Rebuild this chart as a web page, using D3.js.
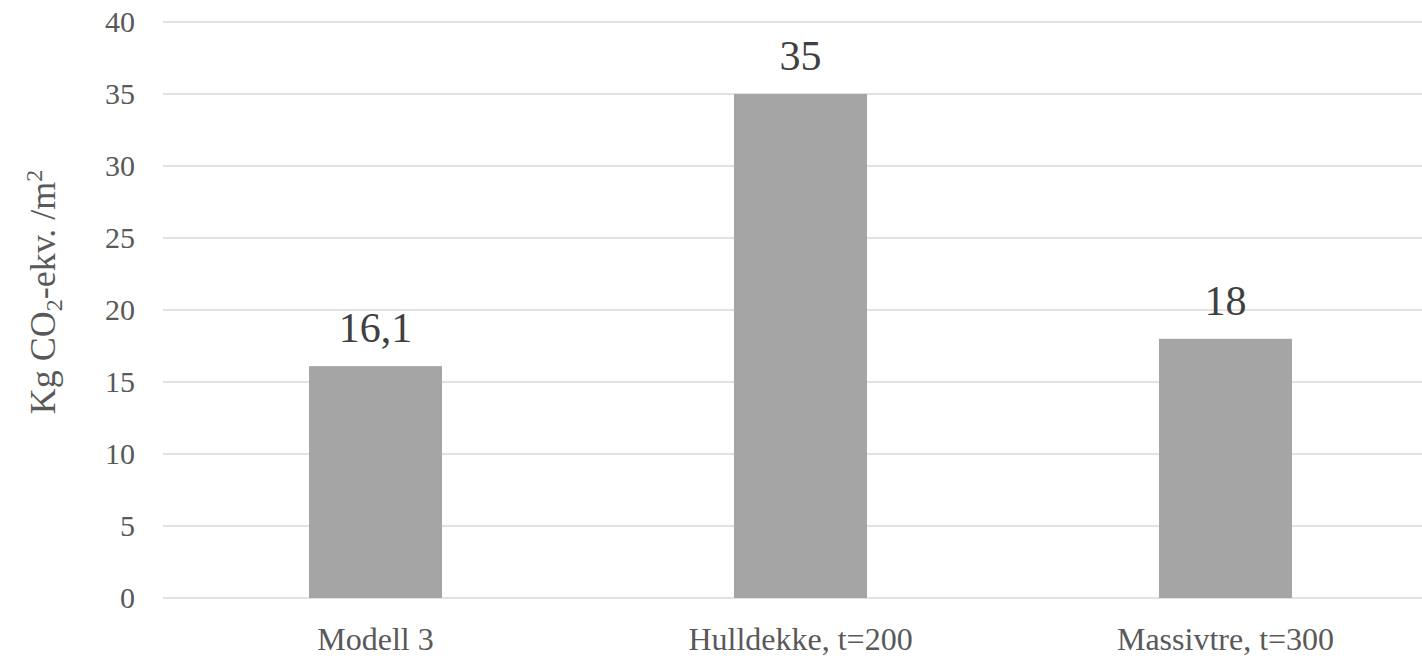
<!DOCTYPE html>
<html>
<head>
<meta charset="utf-8">
<script src="https://cdn.jsdelivr.net/npm/d3@7"></script>
<style>
  html, body { margin: 0; padding: 0; background: #fff; }
  svg { display: block; }
</style>
</head>
<body>
<svg id="chart" width="1422" height="658"></svg>
<script>
const categories = ["Modell 3", "Hulldekke, t=200", "Massivtre, t=300"];
const values = [16.1, 35, 18];
const valueLabels = ["16,1", "35", "18"];
const yTicks = [0, 5, 10, 15, 20, 25, 30, 35, 40];

const FONT = '"Liberation Serif"';

const svg = d3.select("#chart");
const plot = { left: 163, right: 1438, top: 22, bottom: 598 };

const x = d3.scaleBand()
  .domain(categories)
  .range([plot.left, plot.right])
  .paddingInner(0.687)
  .paddingOuter(0.3435);

const y = d3.scaleLinear()
  .domain([0, 40])
  .range([plot.bottom, plot.top]);

// gridlines
svg.append("g")
  .selectAll("line")
  .data(yTicks)
  .join("line")
  .attr("x1", plot.left)
  .attr("x2", plot.right)
  .attr("y1", d => y(d))
  .attr("y2", d => y(d))
  .attr("stroke", "#d9d9d9")
  .attr("stroke-width", 1.5);

// y axis labels
const yAxis = d3.axisLeft(y).tickValues(yTicks).tickSize(0).tickPadding(0);
const gy = svg.append("g")
  .attr("transform", `translate(135,0)`)
  .call(yAxis)
  .attr("font-family", null)
  .attr("font-size", null);
gy.select(".domain").remove();
gy.selectAll("text")
  .attr("fill", "#595959")
  .style("font-family", FONT)
  .attr("font-size", 30);

// bars
svg.append("g")
  .selectAll("rect")
  .data(values)
  .join("rect")
  .attr("x", (d, i) => x(categories[i]))
  .attr("width", x.bandwidth())
  .attr("y", d => y(d))
  .attr("height", d => y(0) - y(d))
  .attr("fill", "#a5a5a5");

// value labels
svg.append("g")
  .selectAll("text")
  .data(values)
  .join("text")
  .attr("x", (d, i) => x(categories[i]) + x.bandwidth() / 2)
  .attr("y", d => y(d) - 24)
  .attr("text-anchor", "middle")
  .attr("fill", "#404040")
  .style("font-family", FONT)
  .attr("font-size", 42)
  .text((d, i) => valueLabels[i]);

// x axis labels
const xAxis = d3.axisBottom(x).tickSize(0).tickPadding(0);
const gx = svg.append("g")
  .attr("transform", `translate(0,${plot.bottom})`)
  .call(xAxis)
  .attr("font-family", null)
  .attr("font-size", null);
gx.select(".domain").remove();
gx.selectAll("text")
  .attr("dy", null)
  .attr("y", 52)
  .attr("fill", "#595959")
  .style("font-family", FONT)
  .attr("font-size", 32);

// y axis title
const title = svg.append("text")
  .attr("transform", `translate(55,${(plot.top + plot.bottom) / 2 - 18}) rotate(-90)`)
  .attr("text-anchor", "middle")
  .attr("fill", "#595959")
  .style("font-family", FONT)
  .attr("font-size", 36);
title.append("tspan").text("Kg CO");
title.append("tspan").attr("font-size", 24).attr("dy", 7).text("2");
title.append("tspan").attr("dy", -7).text("-ekv. /m");
title.append("tspan").attr("font-size", 24).attr("dy", -13).text("2");
</script>
</body>
</html>
